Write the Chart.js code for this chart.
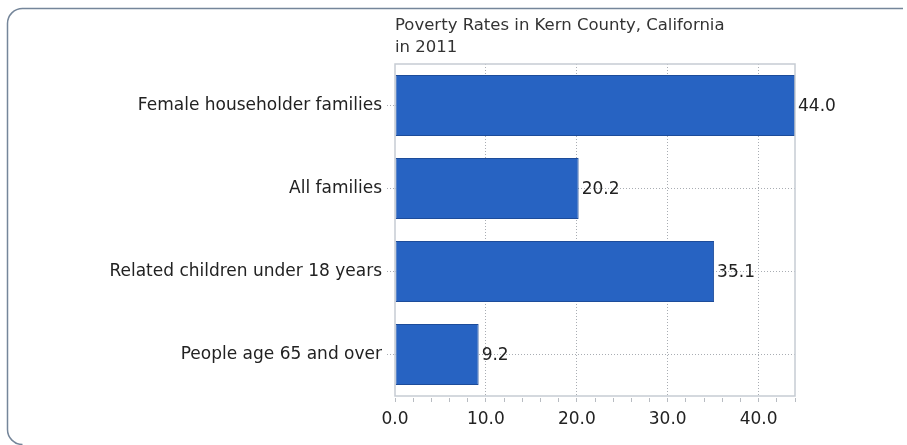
<!DOCTYPE html>
<html>
<head>
<meta charset="utf-8">
<script src="https://cdn.jsdelivr.net/npm/chart.js@4.4.1/dist/chart.umd.min.js"></script>
<style>
  html, body { margin: 0; padding: 0; background: #fff; }
  canvas { display: block; }
</style>
</head>
<body>
<canvas id="povertyChart" width="907" height="445"></canvas>
<script>
const titleLines = ["Poverty Rates in Kern County, California", "in 2011"];
const categories = [
  "Female householder families",
  "All families",
  "Related children under 18 years",
  "People age 65 and over",
];
const rates = [44.0, 20.2, 35.1, 9.2];
const labeledTicks = [0, 10, 20, 30, 40];
const axisMax = 44;

const FONT = "DejaVu Sans";

// rounded frame around the whole figure
const framePlugin = {
  id: "frame",
  beforeDraw(chart) {
    const ctx = chart.ctx;
    ctx.save();
    ctx.fillStyle = "#fff";
    ctx.fillRect(0, 0, chart.width, chart.height);
    ctx.strokeStyle = "#75869a";
    ctx.lineWidth = 1.5;
    ctx.beginPath();
    ctx.moveTo(903, 8.5);
    ctx.lineTo(23, 8.5);
    ctx.arcTo(7.5, 8.5, 7.5, 24, 15);
    ctx.lineTo(7.5, 429);
    ctx.arcTo(7.5, 444.5, 22.5, 444.5, 15);
    ctx.stroke();
    ctx.restore();
  },
};

// title at the left edge of the plot, plot border and value labels
const decorPlugin = {
  id: "decor",
  afterDraw(chart) {
    const ctx = chart.ctx;
    const area = chart.chartArea;
    ctx.save();

    ctx.strokeStyle = "#c6ccd3";
    ctx.lineWidth = 1.5;
    ctx.strokeRect(area.left, area.top, area.right - area.left, area.bottom - area.top);

    ctx.fillStyle = "#333";
    ctx.font = "16.5px '" + FONT + "'";
    ctx.textAlign = "left";
    ctx.textBaseline = "alphabetic";
    ctx.fillText(titleLines[0], area.left, 30);
    ctx.fillText(titleLines[1], area.left, 52);

    ctx.fillStyle = "#222";
    ctx.font = "17px '" + FONT + "'";
    ctx.textBaseline = "middle";
    const meta = chart.getDatasetMeta(0);
    meta.data.forEach((bar, i) => {
      ctx.fillText(rates[i].toFixed(1), bar.x + 3, bar.y + 1);
    });
    ctx.restore();
  },
};

new Chart(document.getElementById("povertyChart"), {
  type: "bar",
  data: {
    labels: categories,
    datasets: [
      {
        data: rates,
        backgroundColor: "#2763c2",
        borderColor: "#1d4c9a",
        borderWidth: 1,
        borderSkipped: false,
        categoryPercentage: 1,
        barPercentage: 0.735,
      },
    ],
  },
  options: {
    indexAxis: "y",
    responsive: false,
    animation: false,
    layout: { padding: { top: 64, right: 112, left: 0, bottom: 0 } },
    plugins: {
      legend: { display: false },
      tooltip: { enabled: false },
      title: { display: false },
    },
    scales: {
      x: {
        min: 0,
        max: axisMax,
        afterFit(scale) {
          scale.height = 49;
        },
        afterBuildTicks(scale) {
          const ticks = [];
          for (let v = 0; v <= axisMax; v += 2) ticks.push({ value: v });
          scale.ticks = ticks;
        },
        border: { display: false, dash: [1, 2] },
        grid: {
          color: (c) =>
            c.tick && labeledTicks.includes(c.tick.value) && c.tick.value > 0
              ? "#a9adb3"
              : "rgba(0,0,0,0)",
          tickColor: "#b8bcc2",
          tickLength: 6,
          tickBorderDash: [0, 2, 4, 100],
          lineWidth: 1,
        },
        ticks: {
          autoSkip: false,
          maxRotation: 0,
          padding: 7,
          color: "#222",
          font: { family: FONT, size: 17 },
          callback: (v) => (labeledTicks.includes(v) ? v.toFixed(1) : ""),
        },
      },
      y: {
        afterFit(scale) {
          scale.width = 395;
        },
        border: { display: false, dash: [1, 2] },
        grid: {
          offset: false,
          color: "#a9adb3",
          tickBorderDash: [1, 2],
          tickLength: 8,
          lineWidth: 1,
        },
        ticks: {
          padding: 5,
          color: "#222",
          font: { family: FONT, size: 17 },
        },
      },
    },
  },
  plugins: [framePlugin, decorPlugin],
});
</script>
</body>
</html>
